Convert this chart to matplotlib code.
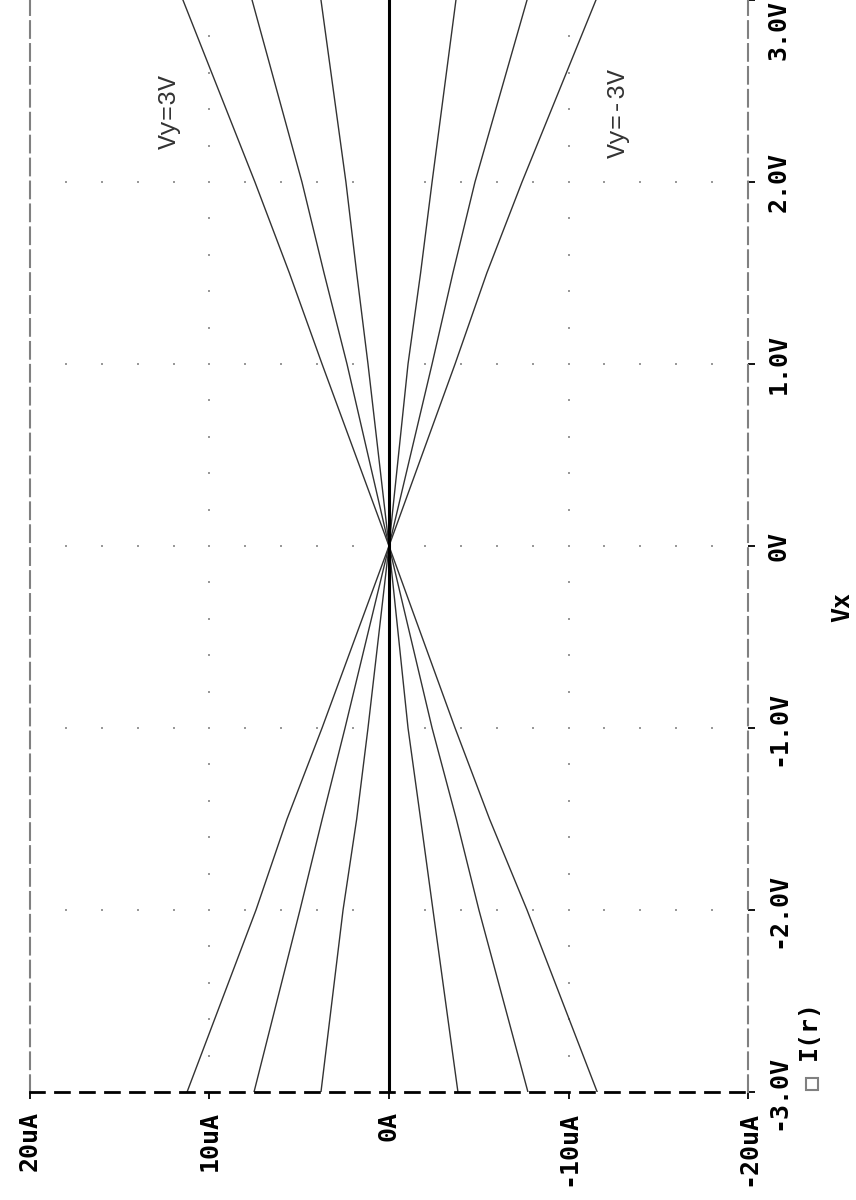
import numpy as np
import matplotlib
matplotlib.use("Agg")
import matplotlib.pyplot as plt
from matplotlib.lines import Line2D

# DC sweep of Vx, stepped Vy; I(r) in uA
vx = [-3.0, -2.0, -1.5, -1.0, 0.0, 1.0, 1.5, 2.0, 3.0]
vy_steps = [3, 2, 1, 0, -1, -2, -3]
i_vy_p3 = [-11.6, -7.69, -5.6, -3.68, 0.0, 3.73, 5.55, 7.47, 11.48]
i_vy_p2 = [-7.74, -5.01, -3.75, -2.40, 0.0, 2.34, 3.62, 4.85, 7.63]
i_vy_p1 = [-3.84, -2.45, -1.76, -1.06, 0.0, 1.17, 1.80, 2.40, 3.79]
i_vy_0 = [0.0, 0.0, 0.0, 0.0, 0.0, 0.0, 0.0, 0.0, 0.0]
i_vy_m1 = [3.79, 2.56, 1.80, 1.17, 0.0, -1.06, -1.76, -2.40, -3.73]
i_vy_m2 = [7.52, 4.96, 3.72, 2.45, 0.0, -2.40, -3.56, -4.79, -7.69]
i_vy_m3 = [11.25, 7.41, 5.68, 3.73, 0.0, -3.68, -5.45, -7.41, -11.53]
currents = [i_vy_p3, i_vy_p2, i_vy_p1, i_vy_0, i_vy_m1, i_vy_m2, i_vy_m3]

i_ticks = [20, 10, 0, -10, -20]
i_labels = ["20uA", "10uA", "0A", "-10uA", "-20uA"]
v_ticks = [-3, -2, -1, 0, 1, 2, 3]
v_labels = ["-3.0V", "-2.0V", "-1.0V", "0V", "1.0V", "2.0V", "3.0V"]

W, H = 856, 1200
MONO = ["DejaVu Sans Mono", "DejaVu Sans"]

fig = plt.figure(figsize=(W / 100, H / 100), dpi=100)
# plot is printed turned on its side: current runs right-to-left, Vx runs upward
ax = fig.add_axes([30 / W, 1 - 1092 / H, 718 / W, 1092 / H])

# dotted grid, one dot per minor step
dot = dict(linestyle="none", marker="s", ms=1.6, mew=0, color="#999999", zorder=1)
minor_i = np.arange(-18, 19, 2)
minor_v = np.arange(-2.8, 2.81, 0.2)
for v in v_ticks[1:-1]:
    ax.plot(minor_i, np.full_like(minor_i, v, dtype=float), **dot)
for i in [10, -10]:
    ax.plot(np.full_like(minor_v, i), minor_v, **dot)

for vy, cur in zip(vy_steps, currents):
    if vy == 0:
        ax.plot(cur, vx, color="black", lw=2.2, zorder=3)
    else:
        ax.plot(cur, vx, color="#333333", lw=1.0, zorder=2)

ax.text(12.26, 2.39, "Vy=3V", rotation=90, ha="center", va="center",
        family="Liberation Mono", fontsize=18, color="#333333")
ax.text(-12.76, 2.38, "Vy=-3V", rotation=90, ha="center", va="center",
        family="Liberation Mono", fontsize=18, color="#333333")

ax.set_xlim(20, -20)
ax.set_ylim(-3, 3)

ax.spines["top"].set_visible(False)
ax.spines["left"].set_color("#808080")
ax.spines["right"].set_color("#808080")
ax.spines["bottom"].set_color("black")
for side in ["left", "right"]:
    ax.spines[side].set_linestyle((0, (8, 3)))
    ax.spines[side].set_linewidth(1.5)
ax.spines["bottom"].set_linestyle((0, (5, 4)))
ax.spines["bottom"].set_linewidth(2.0)

ax.yaxis.tick_right()
ax.set_xticks(i_ticks)
ax.set_xticklabels(i_labels, rotation=90, va="top", ha="center",
                   family=MONO, fontsize=18, fontweight="bold")
ax.set_yticks(v_ticks)
ax.set_yticklabels(v_labels, rotation=90, va="center", ha="left",
                   family=MONO, fontsize=18, fontweight="bold")
ax.get_yticklabels()[-1].set_va("top")
ax.tick_params(axis="both", direction="out", length=5, width=1.3,
               color="black", pad=8.5)

fig.text(842 / W, 1 - 607 / H, "Vx", rotation=90, ha="center", va="center",
         family=MONO, fontsize=18, fontweight="bold")

# trace legend
fig.text(809 / W, 1 - 1030 / H, "I(r)", rotation=90, ha="center", va="center",
         family=MONO, fontsize=18, fontweight="bold")
fig.add_artist(Line2D([811.5 / W], [1 - 1083.5 / H], marker="s", ms=9, mfc="none",
                      mec="#808080", mew=1.5, transform=fig.transFigure))

fig.savefig("out.png", dpi=100, facecolor="white")
